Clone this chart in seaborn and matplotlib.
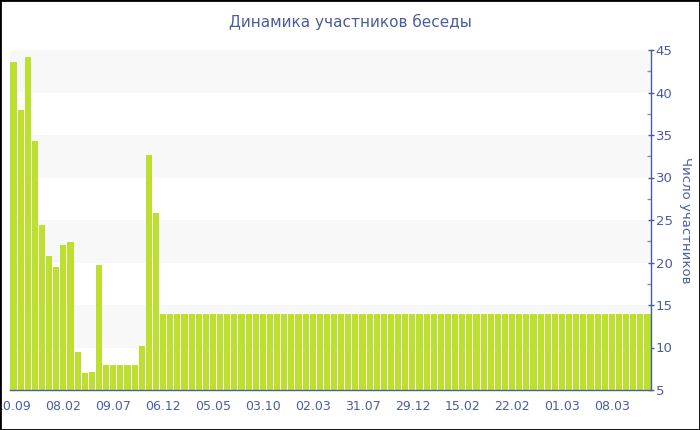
import matplotlib
matplotlib.use("Agg")
import matplotlib.pyplot as plt
import seaborn as sns
import pandas as pd
from matplotlib.patches import Rectangle
from matplotlib.ticker import MultipleLocator

# --- ДАННЫЕ ---
TITLE = "Динамика участников беседы"
Y_LABEL = "Число участников"
TICK_LABELS = ["10.09", "08.02", "09.07", "06.12", "05.05", "03.10", "02.03",
               "31.07", "29.12", "15.02", "22.02", "01.03", "08.03"]
participants = [
    43.6, 38.0, 44.2, 34.3, 24.4, 20.8, 19.5, 22.1, 22.4, 9.5,
    7.0, 7.1, 19.7, 8.0, 8.0, 8.0, 8.0, 8.0, 10.2, 32.6,
    25.8, 14, 14, 14, 14, 14, 14, 14, 14, 14,
    14, 14, 14, 14, 14, 14, 14, 14, 14, 14,
    14, 14, 14, 14, 14, 14, 14, 14, 14, 14,
    14, 14, 14, 14, 14, 14, 14, 14, 14, 14,
    14, 14, 14, 14, 14, 14, 14, 14, 14, 14,
    14, 14, 14, 14, 14, 14, 14, 14, 14, 14,
    14, 14, 14, 14, 14, 14, 14, 14, 14, 14,
]

BLUE = "#4a5c9e"
GREEN = "#bde030"

df = pd.DataFrame({"n": range(len(participants)), "val": participants})

sns.set_style("white")
plt.rcParams["font.family"] = ["DejaVu Sans"]

fig = plt.figure(figsize=(7, 4.3), dpi=100)
ax = fig.add_axes([10 / 700, 40 / 430, 641 / 700, 340 / 430])

# серые полосы
for lo in (10, 20, 30, 40):
    ax.axhspan(lo, lo + 5, color="#f8f8f8", zorder=0, lw=0)

sns.barplot(data=df, x="n", y="val", color=GREEN, saturation=1,
            width=0.86, ax=ax, zorder=2, linewidth=0)

ax.set_xlim(-0.5, len(participants) - 0.5)
ax.set_ylim(5, 45)

step = 7
ax.set_xticks(range(0, step * len(TICK_LABELS), step))
ax.set_xticklabels(TICK_LABELS)
ax.yaxis.set_major_locator(MultipleLocator(5))
ax.yaxis.set_minor_locator(MultipleLocator(2.5))
ax.yaxis.tick_right()
ax.yaxis.set_label_position("right")

ax.tick_params(axis="x", colors=BLUE, labelsize=9, length=4, width=1, pad=3)
ax.tick_params(axis="y", which="major", colors=BLUE, labelsize=9.5,
               length=5, width=1, pad=1, direction="inout")
ax.tick_params(axis="y", which="minor", color="#8a8fa8", length=3, width=1,
               direction="in")

for s in ("left", "top"):
    ax.spines[s].set_visible(False)
for s in ("right", "bottom"):
    ax.spines[s].set_color(BLUE)
    ax.spines[s].set_linewidth(1)
    ax.spines[s].set_zorder(3)

ax.set_xlabel("")
ax.set_ylabel(Y_LABEL, color=BLUE, fontsize=9.5, rotation=270, labelpad=14)

fig.text(0.5, 1 - 22 / 430, TITLE, ha="center", va="center",
         color=BLUE, fontsize=11)

# рамка вокруг картинки
fig.patches.append(Rectangle((0, 0), 1, 1, transform=fig.transFigure,
                             fill=False, edgecolor="black", linewidth=2))

fig.savefig("out.png", dpi=100)
